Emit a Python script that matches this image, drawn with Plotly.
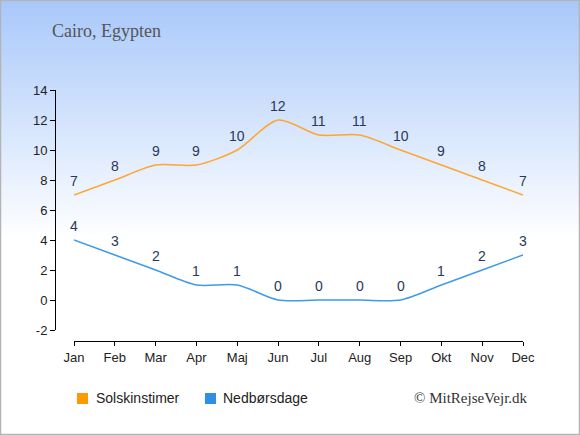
import plotly.graph_objects as go

# data
months = ["Jan", "Feb", "Mar", "Apr", "Maj", "Jun", "Jul", "Aug", "Sep", "Okt", "Nov", "Dec"]
sun_hours = [7, 8, 9, 9, 10, 12, 11, 11, 10, 9, 8, 7]
rain_days = [4, 3, 2, 1, 1, 0, 0, 0, 0, 1, 2, 3]
y_ticks = [-2, 0, 2, 4, 6, 8, 10, 12, 14]

W, H = 580, 435
# paper area (pixels): x 55..523, y 90..341
PL, PR, PT, PB = 55, 523, 90, 341

LABEL_FONT = dict(family="Liberation Sans, Arial", size=14, color="#2a3856")
LEGEND_FONT = dict(family="Liberation Sans, Arial", size=14, color="#222222")


def px(x):
    return (x - PL) / (PR - PL)


def py(y):
    return (PB - y) / (PB - PT)


fig = go.Figure()

# name, values, line colour, legend swatch colour, swatch left px, text left px
series = [
    ("Solskinstimer", sun_hours, "#FFA630", "#FF9900", 77, 94),
    ("Nedbørsdage", rain_days, "#3D9BE9", "#2F8FE6", 205, 221),
]
annotations = []
shapes = []

# background gradient, light blue at the top fading to white
n = 60
top_c = (168, 200, 250)
for i in range(n):
    y0 = 240 * i / n
    y1 = 240 * (i + 1) / n
    t = (i + 0.5) / n
    c = tuple(round(a + (255 - a) * t) for a in top_c)
    shapes.append(dict(type="rect", xref="paper", yref="paper",
                       x0=px(0), x1=px(W), y0=py(y1 + 0.5), y1=py(y0),
                       fillcolor="rgb(%d,%d,%d)" % c, line=dict(width=0),
                       layer="below"))

for name, vals, line_c, legend_c, sx, tx in series:
    fig.add_trace(go.Scatter(
        x=months, y=vals, name=name, mode="lines", showlegend=False,
        line=dict(color=line_c, width=1.5, shape="spline", smoothing=0.8),
        hoverinfo="x+y",
    ))
    for m, v in zip(months, vals):
        annotations.append(dict(x=m, y=v, text=str(v), showarrow=False,
                                yshift=14, font=LABEL_FONT))
    # legend: square swatch + label
    shapes.append(dict(type="rect", xref="paper", yref="paper",
                       x0=px(sx), x1=px(sx + 11), y0=py(404), y1=py(393),
                       fillcolor=legend_c, line=dict(width=0)))
    annotations.append(dict(text=name, xref="paper", yref="paper",
                            x=px(tx), y=py(398), xanchor="left", yanchor="middle",
                            showarrow=False, font=LEGEND_FONT))

annotations.append(dict(
    text="© MitRejseVejr.dk", xref="paper", yref="paper",
    x=px(530), y=py(398), xanchor="right", yanchor="middle", showarrow=False,
    font=dict(family="Liberation Serif, DejaVu Serif, serif", size=15, color="#333333"),
))

# frame
shapes.append(dict(type="rect", xref="paper", yref="paper",
                   x0=px(0.5), x1=px(W - 0.5), y0=py(H - 0.5), y1=py(0.5),
                   line=dict(color="#b4b4b4", width=1.5), layer="above"))

fig.update_layout(
    width=W, height=H,
    margin=dict(l=PL, r=W - PR, t=PT, b=H - PB),
    paper_bgcolor="white", plot_bgcolor="rgba(0,0,0,0)",
    shapes=shapes,
    annotations=annotations,
    title=dict(text="Cairo, Egypten", xref="container", yref="container",
               x=52 / W, y=1 - 31 / H, xanchor="left", yanchor="middle",
               font=dict(family="Liberation Serif, DejaVu Serif, serif", size=18, color="#555555")),
    showlegend=False,
    xaxis=dict(
        domain=[(74 - PL) / (PR - PL), 1], range=[0, 11],
        anchor="free", position=0,
        showline=True, linecolor="black", linewidth=1,
        ticks="outside", ticklen=4, tickcolor="black",
        showgrid=False, zeroline=False, fixedrange=True,
        tickfont=dict(family="Liberation Sans, Arial", size=13, color="#222222"),
    ),
    yaxis=dict(
        domain=[(PB - 330) / (PB - PT), 1], range=[-2, 14],
        anchor="free", position=0,
        tickvals=y_ticks, ticktext=[str(v) for v in y_ticks],
        showline=True, linecolor="black", linewidth=1,
        ticks="outside", ticklen=5, tickcolor="black",
        showgrid=False, zeroline=False, fixedrange=True,
        tickfont=dict(family="Liberation Sans, Arial", size=13, color="#222222"),
    ),
)

fig.write_html("out.html", config={"displayModeBar": False},
               post_script="document.body.style.margin='0';")
